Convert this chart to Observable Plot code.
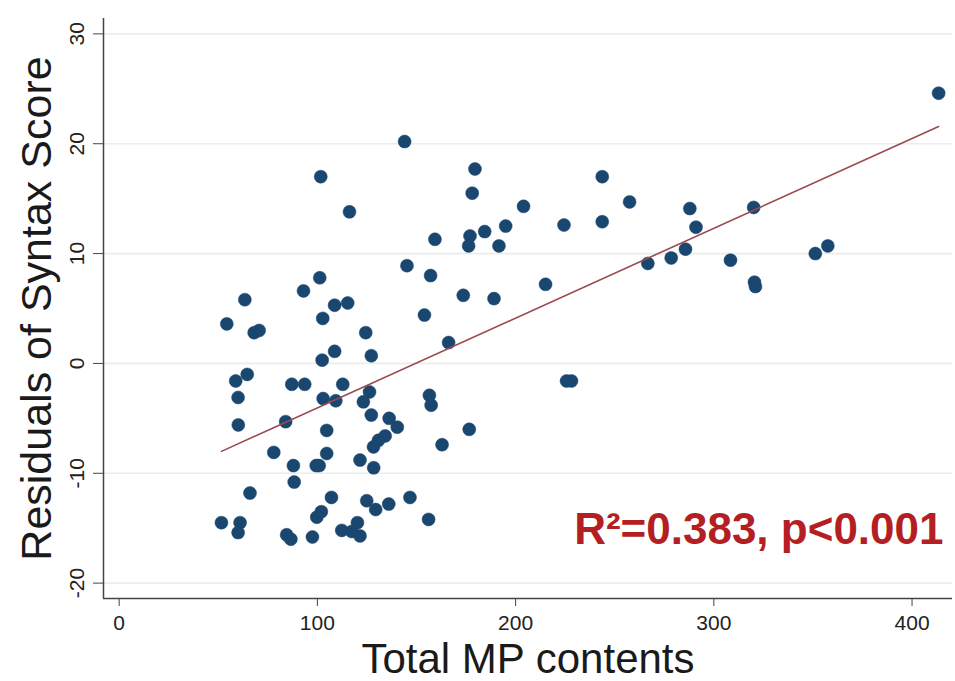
<!DOCTYPE html>
<html>
<head>
<meta charset="utf-8">
<script src="https://cdn.jsdelivr.net/npm/d3@7"></script>
<script src="https://cdn.jsdelivr.net/npm/@observablehq/plot@0.6"></script>
<style>
  html, body { margin: 0; padding: 0; background: white; }
</style>
</head>
<body>
<div id="chart"></div>
<script>
const mpContents = [51.6,61.0,60.0,58.8,64.6,60.0,60.1,66.0,68.1,70.6,
  78.0,84.0,87.1,93.6,87.9,88.3,84.5,86.6,97.5,99.4,
  100.9,102.4,108.7,102.9,109.3,112.8,104.7,104.7,107.1,99.7,
  102.0,112.3,117.3,120.2,121.5,121.5,124.4,127.2,126.3,123.2,
  127.2,128.3,130.8,134.2,128.4,124.9,129.4,136.0,136.2,140.3,
  146.7,156.1,156.5,157.4,162.9,166.2,176.6,144.0,101.7,116.2,
  159.3,145.2,157.1,101.2,93.0,173.6,63.4,108.7,115.3,54.3,
  102.7,154.0,179.5,178.1,177.0,176.3,184.4,191.6,195.0,204.0,
  189.1,215.1,224.4,243.7,243.7,257.5,225.7,228.2,266.7,278.5,
  285.7,287.9,291.0,308.4,320.1,320.5,321.0,351.2,357.5,413.4];
const residuals = [-14.5,-14.5,-15.4,-1.6,-1.0,-3.1,-5.6,-11.8,2.8,3.0,
  -8.1,-5.3,-1.9,-1.9,-9.3,-10.8,-15.6,-16.0,-15.8,-9.3,
  -9.3,0.3,1.1,-3.2,-3.4,-1.9,-6.1,-8.2,-12.2,-14.0,
  -13.5,-15.2,-15.3,-14.5,-15.7,-8.8,2.8,0.7,-2.6,-3.5,
  -4.7,-7.6,-7.0,-6.6,-9.5,-12.5,-13.3,-12.8,-5.0,-5.8,
  -12.2,-14.2,-2.9,-3.8,-7.4,1.9,-6.0,20.2,17.0,13.8,
  11.3,8.9,8.0,7.8,6.6,6.2,5.8,5.3,5.5,3.6,
  4.1,4.4,17.7,15.5,11.6,10.7,12.0,10.7,12.5,14.3,
  5.9,7.2,12.6,17.0,12.9,14.7,-1.6,-1.6,9.1,9.6,
  10.4,14.1,12.4,9.4,14.2,7.4,7.0,10.0,10.7,24.6];
const xTicks = [0, 100, 200, 300, 400];
const yTicks = [-20, -10, 0, 10, 20, 30];
const xDomain = [-7.9, 420.4];
const yDomain = [-21.4, 31.4];
const xTitle = "Total MP contents";
const yTitle = "Residuals of Syntax Score";
const annotation = "R²=0.383, p<0.001";

const data = mpContents.map((x, i) => ({x, y: residuals[i]}));

const chart = Plot.plot({
  width: 955,
  height: 681,
  marginLeft: 103,
  marginRight: 3,
  marginTop: 18,
  marginBottom: 83,
  x: {domain: xDomain},
  y: {domain: yDomain},
  style: {fontFamily: "'Liberation Sans', Arial, Helvetica, sans-serif", background: "white", color: "#222"},
  marks: [
    Plot.gridY(yTicks, {stroke: "#ececec", strokeOpacity: 1, strokeWidth: 1.6}),
    Plot.ruleX([xDomain[0]], {stroke: "#444", strokeWidth: 1.5}),
    Plot.ruleY([yDomain[0]], {stroke: "#444", strokeWidth: 1.5}),
    Plot.axisX(xTicks, {tickSize: 8, tickPadding: 9, fontSize: 21, label: null, stroke: "#444", fill: "#222", tickFormat: d => `${d}`}),
    Plot.axisY(yTicks, {tickSize: 10, tickPadding: 10, tickRotate: -90, fontSize: 21, label: null, stroke: "#444", fill: "#222", tickFormat: d => `${d}`}),
    Plot.text([xTitle], {frameAnchor: "bottom", textAnchor: "middle", lineAnchor: "bottom", dy: 74, fontSize: 42, fill: "#1a1a1a"}),
    Plot.text([yTitle], {frameAnchor: "left", textAnchor: "middle", lineAnchor: "bottom", rotate: -90, dx: -53, fontSize: 43, fill: "#1a1a1a"}),
    Plot.dot(data, {x: "x", y: "y", r: 6.5, fill: "#1a476f", stroke: "#1a476f", strokeWidth: 0.5}),
    Plot.linearRegressionY(data, {x: "x", y: "y", ci: 0, stroke: "#9c4a4f", strokeWidth: 1.6}),
    Plot.text([annotation], {frameAnchor: "bottom-right", textAnchor: "end", lineAnchor: "bottom", dx: -9, dy: -55, fontSize: 44, fontWeight: "bold", fill: "#b41f24"})
  ]
});
document.getElementById("chart").appendChild(chart);
</script>
</body>
</html>
